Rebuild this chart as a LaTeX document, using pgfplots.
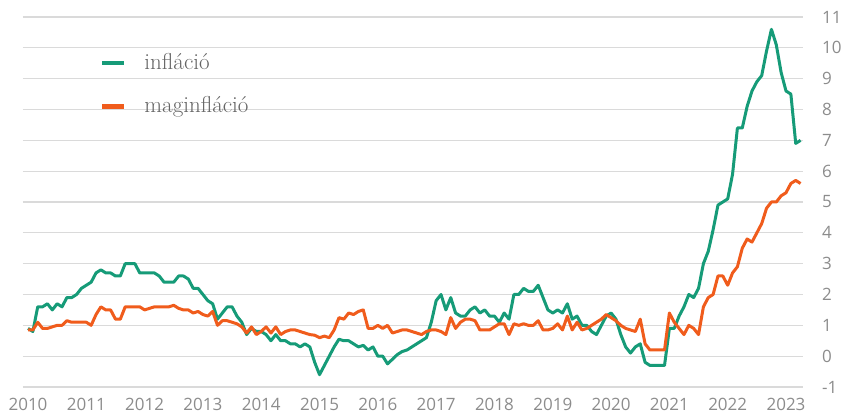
\documentclass[border=0pt]{standalone}
\usepackage{fontspec}
\usepackage{pgfplots}
\pgfplotsset{compat=1.18}
\usepackage{pgfplotstable}
\newfontfamily\tickfont{Open Sans}
\definecolor{infl}{RGB}{22,155,120}
\definecolor{core}{RGB}{240,92,28}
\definecolor{gridc}{RGB}{218,218,218}
\definecolor{ticktext}{RGB}{140,140,140}
\definecolor{legtext}{RGB}{100,100,100}

\pgfplotstableread{
m g c
0 0.9 0.85
1 0.8 0.85
2 1.6 1.1
3 1.6 0.9
4 1.7 0.9
5 1.5 0.95
6 1.7 1.0
7 1.6 1.0
8 1.9 1.15
9 1.9 1.1
10 2.0 1.1
11 2.2 1.1
12 2.3 1.1
13 2.4 1.0
14 2.7 1.35
15 2.8 1.6
16 2.7 1.5
17 2.7 1.5
18 2.6 1.2
19 2.6 1.2
20 3.0 1.6
21 3.0 1.6
22 3.0 1.6
23 2.7 1.6
24 2.7 1.5
25 2.7 1.55
26 2.7 1.6
27 2.6 1.6
28 2.4 1.6
29 2.4 1.6
30 2.4 1.65
31 2.6 1.55
32 2.6 1.5
33 2.5 1.5
34 2.2 1.4
35 2.2 1.45
36 2.0 1.35
37 1.8 1.3
38 1.7 1.45
39 1.2 1.0
40 1.4 1.15
41 1.6 1.15
42 1.6 1.1
43 1.3 1.05
44 1.1 0.95
45 0.7 0.75
46 0.9 0.95
47 0.8 0.7
48 0.8 0.8
49 0.7 0.95
50 0.5 0.75
51 0.7 0.95
52 0.5 0.7
53 0.5 0.8
54 0.4 0.85
55 0.4 0.85
56 0.3 0.8
57 0.4 0.75
58 0.3 0.7
59 -0.2 0.68
60 -0.6 0.6
61 -0.3 0.65
62 0.0 0.6
63 0.3 0.85
64 0.55 1.25
65 0.5 1.2
66 0.5 1.4
67 0.4 1.35
68 0.3 1.45
69 0.35 1.5
70 0.2 0.9
71 0.3 0.9
72 0.0 1.0
73 0.0 0.9
74 -0.25 1.0
75 -0.1 0.75
76 0.05 0.8
77 0.15 0.85
78 0.2 0.85
79 0.3 0.8
80 0.4 0.75
81 0.5 0.7
82 0.6 0.8
83 1.1 0.85
84 1.8 0.85
85 2.0 0.8
86 1.5 0.7
87 1.9 1.25
88 1.4 0.9
89 1.3 1.1
90 1.3 1.2
91 1.5 1.2
92 1.6 1.15
93 1.4 0.85
94 1.5 0.85
95 1.3 0.85
96 1.3 0.95
97 1.1 1.05
98 1.4 1.05
99 1.2 0.7
100 2.0 1.05
101 2.0 1.0
102 2.2 1.05
103 2.1 1.0
104 2.1 1.0
105 2.3 1.15
106 1.9 0.85
107 1.5 0.85
108 1.4 0.9
109 1.5 1.05
110 1.4 0.85
111 1.7 1.3
112 1.2 0.85
113 1.3 1.1
114 1.0 0.85
115 1.0 0.9
116 0.8 1.0
117 0.7 1.1
118 1.0 1.2
119 1.3 1.35
120 1.4 1.25
121 1.2 1.15
122 0.7 1.0
123 0.3 0.9
124 0.1 0.85
125 0.3 0.8
126 0.4 1.2
127 -0.2 0.4
128 -0.3 0.2
129 -0.3 0.2
130 -0.3 0.2
131 -0.3 0.2
132 0.9 1.4
133 0.9 1.1
134 1.3 0.9
135 1.6 0.7
136 2.0 1.0
137 1.9 0.9
138 2.2 0.7
139 3.0 1.6
140 3.4 1.9
141 4.1 2.0
142 4.9 2.6
143 5.0 2.6
144 5.1 2.3
145 5.9 2.7
146 7.4 2.9
147 7.4 3.5
148 8.1 3.8
149 8.6 3.7
150 8.9 4.0
151 9.1 4.3
152 9.9 4.8
153 10.6 5.0
154 10.1 5.0
155 9.2 5.2
156 8.6 5.3
157 8.5 5.6
158 6.9 5.7
159 7.0 5.6
}\datatable

\begin{document}
\begin{tikzpicture}
\useasboundingbox (0,0) rectangle (854bp,416bp);
\begin{axis}[
  at={(23bp,29bp)}, anchor=south west,
  scale only axis, width=780bp, height=370bp,
  xmin=-1.03, xmax=159.5, ymin=-1, ymax=11,
  clip=false,
  axis line style={draw=none},
  major tick length=0pt,
  xtick={0,12,24,36,48,60,72,84,96,108,120,132,144,156},
  xticklabels={2010,2011,2012,2013,2014,2015,2016,2017,2018,2019,2020,2021,2022,2023},
  ytick={-1,0,1,2,3,4,5,6,7,8,9,10,11},
  yticklabels={-1,0,1,2,3,4,5,6,7,8,9,10,11},
  yticklabel pos=right,
  ymajorgrids, grid style={gridc, line width=1.2bp},
  xticklabel style={anchor=north, inner sep=0pt, yshift=-11bp, font=\tickfont\fontsize{17bp}{17bp}\selectfont, text=ticktext},
  yticklabel style={anchor=west, inner sep=0pt, xshift=19bp, font=\tickfont\fontsize{17bp}{17bp}\selectfont, text=ticktext},
  legend style={draw=none, fill=none, at={(axis description cs:0.0987,0.9027)}, anchor=north west,
    inner sep=0pt, outer sep=0pt, row sep=25.8bp, column sep=18bp,
    nodes={inner sep=0pt, text=legtext},
    font=\fontsize{23bp}{23bp}\selectfont},
  legend cell align=left,
  legend image code/.code={\draw[#1, line width=4.5bp] (0bp,-1bp) -- (22bp,-1bp);},
]
\addplot[infl, line width=3bp, line join=round, no markers] table[x=m, y=g] {\datatable};
\addlegendentry{infláció}
\addplot[core, line width=3bp, line join=round, no markers] table[x=m, y=c] {\datatable};
\addlegendentry{maginfláció}
\end{axis}
\end{tikzpicture}
\end{document}
